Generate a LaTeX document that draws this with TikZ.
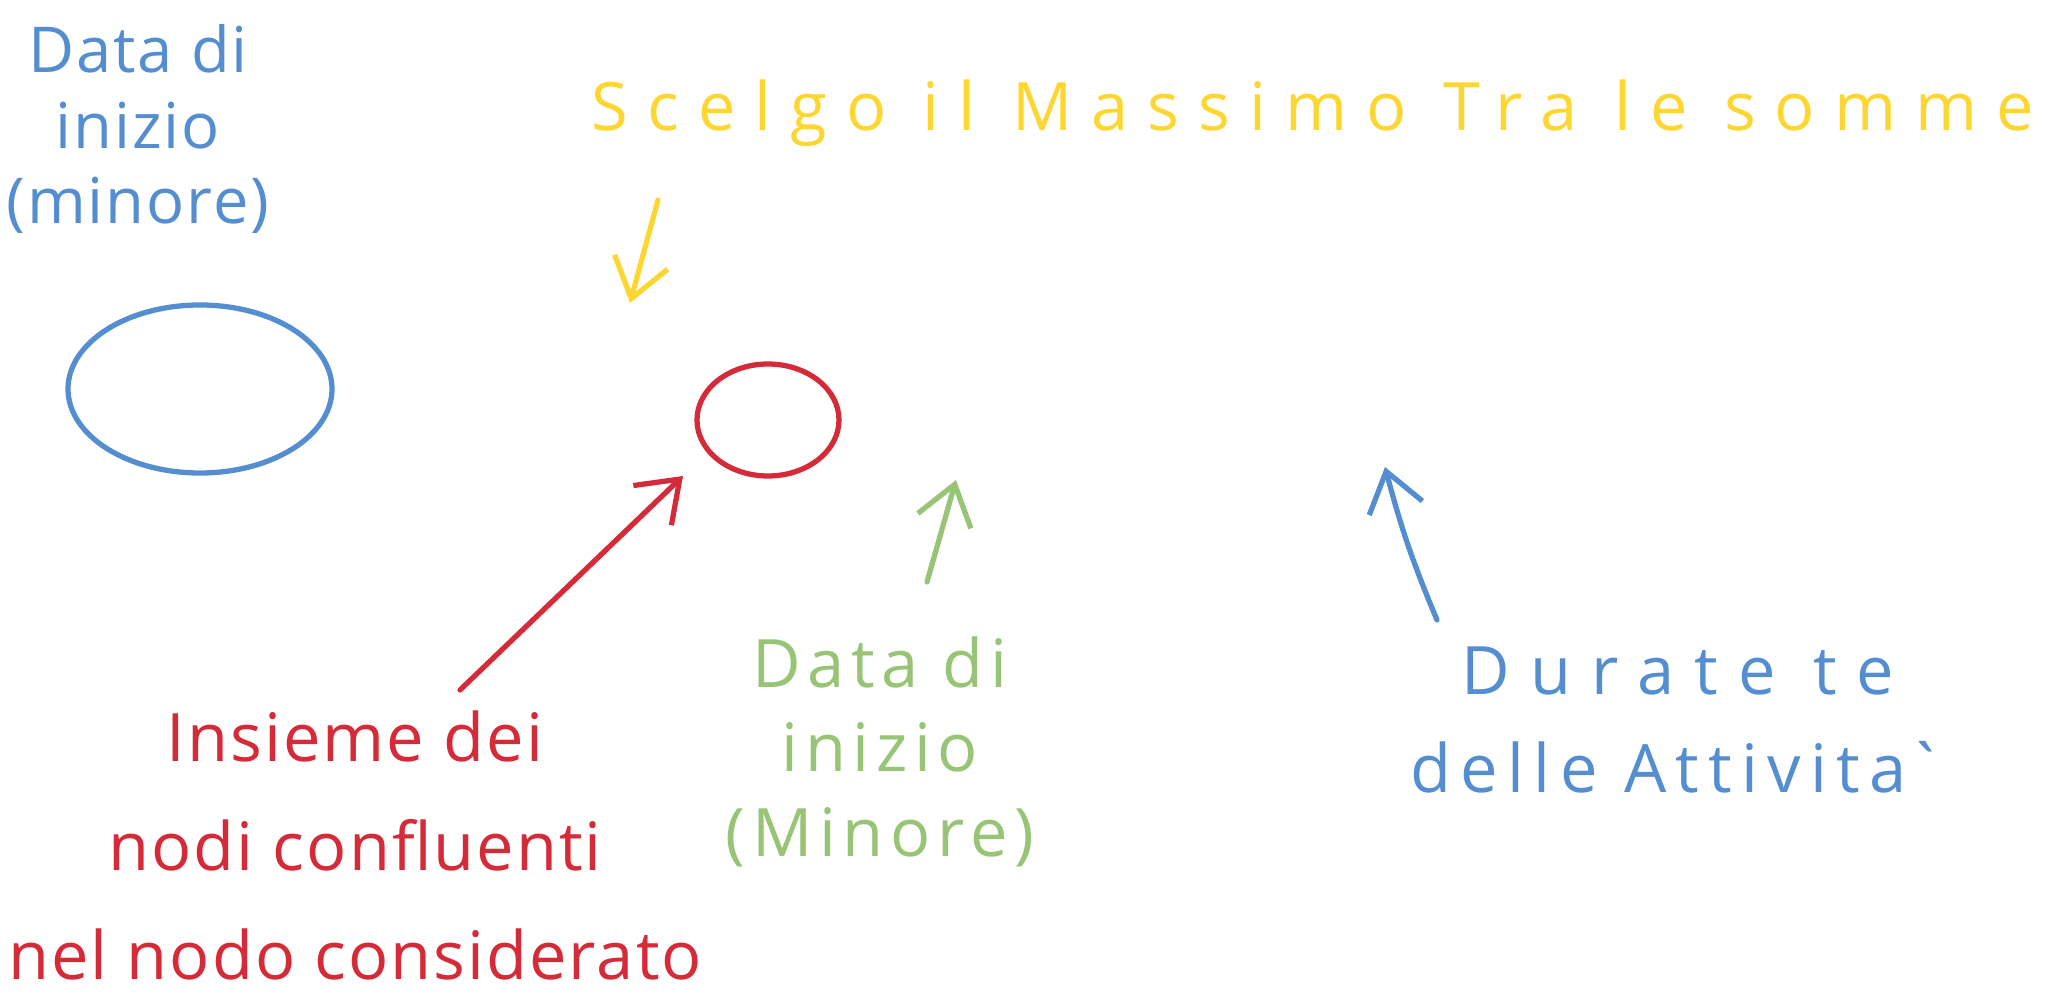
\documentclass[tikz,border=0pt]{standalone}
\usepackage{fontspec}
\setmainfont{Open Sans}
\usepackage{tikz}
\usetikzlibrary{shapes.geometric, arrows.meta, positioning}
\definecolor{myblue}{RGB}{85,142,208}
\definecolor{myyellow}{RGB}{254,214,50}
\definecolor{myred}{RGB}{213,43,57}
\definecolor{mygreen}{RGB}{152,196,118}
\tikzset{
  note/.style={inner sep=0pt, align=center},
  bluenote/.style={note, text=myblue,
    font=\fontsize{18}{21.5}\selectfont\addfontfeature{LetterSpace=3}},
  yellownote/.style={note, text=myyellow,
    font=\fontsize{19}{21.5}\selectfont\addfontfeature{LetterSpace=28.5}},
  rednote/.style={note, text=myred, text depth=0pt,
    font=\fontsize{19}{31}\selectfont\addfontfeature{LetterSpace=3}},
  greennote/.style={note, text=mygreen,
    font=\fontsize{19}{24}\selectfont\addfontfeature{LetterSpace=10}},
  durnote/.style={note, text=myblue,
    font=\fontsize{19}{28}\selectfont\addfontfeature{LetterSpace=30}},
  oval/.style={ellipse, draw, line width=1.5pt, inner sep=0pt},
  arrow/.style={-{Straight Barb[length=0.38cm, width=0.55cm]},
    line width=1.5pt, line cap=round, line join=round}
}

\begin{document}
\begin{tikzpicture}
  \useasboundingbox (0,0) rectangle (20.61,-10);

  % Nodes
  \node[oval, draw=myblue, minimum width=2.64cm, minimum height=1.68cm] (start) at (2.00,-3.89) {};
  \node[oval, draw=myred, minimum width=1.42cm, minimum height=1.12cm] (current) at (7.68,-4.20) {};

  % Labels
  \node[bluenote, anchor=north] (startlbl) at (1.38,-0.24) {Data di\\inizio\\(minore)};
  \node[yellownote, anchor=base west] (maxlbl) at (5.91,-1.31) {Scelgo il Massimo Tra le somme};
  \node[rednote, anchor=north] (setlbl) at (3.55,-7.10) {Insieme dei\\nodi confluenti\\nel nodo considerato};
  \node[greennote, anchor=north] (minlbl) at (8.80,-6.36) {Data di\\inizio\\(Minore)};
  \node[durnote, anchor=north] (durlbl) at (16.78,-6.46)
    {Durate te\\\addfontfeature{LetterSpace=14}delle Attivita\textasciigrave};

  % Arrow ends
  \coordinate (ytail) at (6.58,-2.00);
  \coordinate (ytip) at (6.30,-3.03);
  \coordinate (rtail) at (4.60,-6.90);
  \coordinate (rtip) at (6.83,-4.76);
  \coordinate (gtail) at (9.27,-5.82);
  \coordinate (gtip) at (9.56,-4.80);
  \coordinate (btail) at (14.37,-6.20);
  \coordinate (btip) at (13.85,-4.67);

  % Arrows
  \draw[arrow, myyellow] (ytail) -- (ytip);
  \draw[arrow, myred] (rtail) -- (rtip);
  \draw[arrow, mygreen] (gtail) -- (gtip);
  \draw[arrow, myblue] (btail) to[bend left=4] (btip);
\end{tikzpicture}
\end{document}
